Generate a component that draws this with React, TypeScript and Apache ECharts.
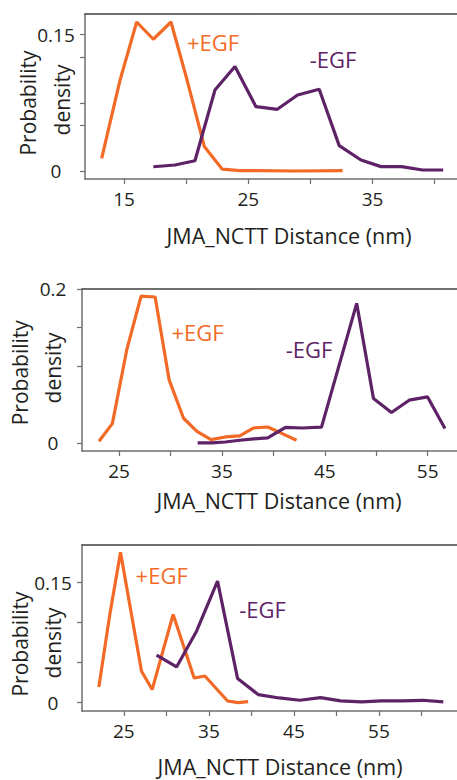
import React, { useEffect, useRef } from "react";
import * as echarts from "echarts";

// ---- Panel 1 data ----
const P1_PLUS_X = [13.2, 14.68, 16.02, 17.36, 18.78, 20.04, 21.46, 22.91, 24.3, 28.8, 32.6];
const P1_PLUS_Y = [0.014, 0.1, 0.164, 0.145, 0.164, 0.102, 0.027, 0.002, 0.0005, 0, 0.0005];
const P1_MINUS_X = [17.36, 19.1, 20.71, 22.32, 23.93, 25.62, 27.34, 28.97, 30.71, 32.32, 34.07, 35.68, 37.34, 39.03, 40.69];
const P1_MINUS_Y = [0.0047, 0.0066, 0.0113, 0.0891, 0.115, 0.0708, 0.0679, 0.0836, 0.0899, 0.0279, 0.0121, 0.0048, 0.0048, 0.0011, 0.0011];
const P1_X_TICKS = [15, 20, 25, 30, 35, 40];
const P1_X_LABELS = [15, 25, 35];
const P1_Y_TICKS = [0, 0.05, 0.075, 0.125, 0.15];
const P1_Y_LABELS = [0, 0.15];

// ---- Panel 2 data ----
const P2_PLUS_X = [23.05, 24.35, 25.75, 27.14, 28.51, 29.87, 31.27, 32.57, 33.94, 35.33, 36.73, 38.09, 39.45, 40.86, 42.25];
const P2_PLUS_Y = [0.002, 0.025, 0.121, 0.191, 0.19, 0.082, 0.032, 0.015, 0.0042, 0.0076, 0.0089, 0.0193, 0.0206, 0.012, 0.0033];
const P2_MINUS_X = [32.64, 34.04, 35.33, 36.73, 38.09, 39.45, 41.18, 42.81, 44.68, 48.1, 49.73, 51.48, 53.2, 54.99, 56.68];
const P2_MINUS_Y = [0, 0, 0.001, 0.0033, 0.005, 0.0063, 0.0202, 0.0193, 0.0204, 0.1817, 0.0577, 0.0394, 0.0555, 0.0598, 0.0185];
const P2_X_TICKS = [25, 30, 35, 40, 45, 50, 55];
const P2_X_LABELS = [25, 35, 45, 55];
const P2_Y_TICKS = [0, 0.1, 0.15, 0.2];
const P2_Y_LABELS = [0, 0.2];

// ---- Panel 3 data ----
const P3_PLUS_X = [22.06, 23.35, 24.61, 27.08, 28.33, 30.8, 33.27, 34.53, 37.2, 38.45, 39.62];
const P3_PLUS_Y = [0.0195, 0.11, 0.1878, 0.0392, 0.0163, 0.1102, 0.0308, 0.0333, 0.002, 0, 0.0013];
const P3_MINUS_X = [28.85, 31.2, 33.55, 36.02, 38.38, 40.8, 43.27, 45.7, 48.14, 50.49, 52.96, 55.31, 57.74, 60.14, 62.57];
const P3_MINUS_Y = [0.0592, 0.0446, 0.0893, 0.1519, 0.03, 0.01, 0.0058, 0.0029, 0.0063, 0.0021, 0.0008, 0.0021, 0.0021, 0.0029, 0.0008];
const P3_X_TICKS = [25, 30, 35, 40, 45, 50, 55, 60];
const P3_X_LABELS = [25, 35, 45, 55];
const P3_Y_TICKS = [0, 0.05, 0.1, 0.15];
const P3_Y_LABELS = [0, 0.15];

const SERIES_NAMES = ["+EGF", "-EGF"];
const X_TITLE = "JMA_NCTT Distance (nm)";
const Y_TITLE_1 = "Probability";
const Y_TITLE_2 = "density";

const ORANGE = "#f26a26";
const PURPLE = "#5e2266";
const TEXT = "#231f20";
const AXIS = "#6d6e71";
const FONT = "'Open Sans', sans-serif";

const zip = (xs: number[], ys: number[]) => xs.map((x, i) => [x, ys[i]]);

export default function App() {
  const ref = useRef<HTMLDivElement>(null);
  useEffect(() => {
    document.body.style.margin = "0";
    const chart = echarts.init(ref.current!, null, { renderer: "svg" });

    const panels = [
      {
        grid: { left: 85, top: 14, width: 372, height: 165 },
        xr: [11.86, 41.8], yr: [-0.0088, 0.1728],
        xt: P1_X_TICKS, xl: P1_X_LABELS, yt: P1_Y_TICKS, yl: P1_Y_LABELS,
        plus: zip(P1_PLUS_X, P1_PLUS_Y), minus: zip(P1_MINUS_X, P1_MINUS_Y),
        xTitle: [289, 235], yT1: [28.3, 103], yT2: [61.7, 100],
        plusLbl: [213, 42], minusLbl: [333, 58.5],
      },
      {
        grid: { left: 82, top: 289, width: 375, height: 162 },
        xr: [21.4, 57.85], yr: [-0.0107, 0.2004],
        xt: P2_X_TICKS, xl: P2_X_LABELS, yt: P2_Y_TICKS, yl: P2_Y_LABELS,
        plus: zip(P2_PLUS_X, P2_PLUS_Y), minus: zip(P2_MINUS_X, P2_MINUS_Y),
        xTitle: [279, 500], yT1: [20, 372.7], yT2: [53.3, 368],
        plusLbl: [197.5, 332], minusLbl: [309, 348.5],
      },
      {
        grid: { left: 82, top: 545, width: 375, height: 166 },
        xr: [20.08, 64.18], yr: [-0.0105, 0.197],
        xt: P3_X_TICKS, xl: P3_X_LABELS, yt: P3_Y_TICKS, yl: P3_Y_LABELS,
        plus: zip(P3_PLUS_X, P3_PLUS_Y), minus: zip(P3_MINUS_X, P3_MINUS_Y),
        xTitle: [280, 766], yT1: [20, 644], yT2: [53.3, 643],
        plusLbl: [161.7, 575], minusLbl: [262.5, 608.5],
      },
    ];

    const axisLine = { show: true, onZero: false, lineStyle: { color: AXIS, width: 1.5 } };
    const labelStyle = { fontSize: 19, fontFamily: FONT, color: TEXT };

    const xAxis: any[] = [];
    const yAxis: any[] = [];
    const series: any[] = [];
    const graphic: any[] = [];

    panels.forEach((p, i) => {
      xAxis.push({
        type: "value", gridIndex: i, position: "bottom", min: p.xr[0], max: p.xr[1],
        axisLine,
        axisTick: { show: true, length: 5, customValues: p.xt, lineStyle: { color: AXIS, width: 1.2 } },
        axisLabel: { show: true, customValues: p.xl, margin: 10, ...labelStyle },
        splitLine: { show: false },
      });
      yAxis.push({
        type: "value", gridIndex: i, min: p.yr[0], max: p.yr[1],
        axisLine,
        axisTick: { show: true, length: 5, customValues: p.yt, lineStyle: { color: AXIS, width: 1.2 } },
        axisLabel: { show: true, customValues: p.yl, align: "center", margin: 29, ...labelStyle },
        splitLine: { show: false },
      });
      series.push({
        type: "line", name: SERIES_NAMES[0], xAxisIndex: i, yAxisIndex: i, data: p.plus,
        symbol: "none", lineStyle: { color: ORANGE, width: 3.2 }, itemStyle: { color: ORANGE },
      });
      series.push({
        type: "line", name: SERIES_NAMES[1], xAxisIndex: i, yAxisIndex: i, data: p.minus,
        symbol: "none", lineStyle: { color: PURPLE, width: 3.2 }, itemStyle: { color: PURPLE },
      });
      const txt = (t: string, pos: number[], fill: string, size: number, rot = 0) => ({
        type: "text", x: pos[0], y: pos[1], rotation: rot,
        style: { text: t, fill, fontSize: size, fontFamily: FONT, align: "center", verticalAlign: "middle" },
      });
      graphic.push(txt(X_TITLE, p.xTitle, TEXT, 21.5));
      graphic.push(txt(Y_TITLE_1, p.yT1, TEXT, 21, Math.PI / 2));
      graphic.push(txt(Y_TITLE_2, p.yT2, TEXT, 21, Math.PI / 2));
      graphic.push(txt(SERIES_NAMES[0], p.plusLbl, ORANGE, 22));
      graphic.push(txt(SERIES_NAMES[1], p.minusLbl, PURPLE, 22));
    });
    // top frame lines
    panels.forEach((p, i) => {
      xAxis.push({
        type: "value", gridIndex: i, position: "top", min: p.xr[0], max: p.xr[1],
        axisLine: { show: true, onZero: false, lineStyle: { color: "#414042", width: 1.5 } },
        axisTick: { show: false }, axisLabel: { show: false }, splitLine: { show: false },
      });
    });

    chart.setOption({
      animation: false,
      backgroundColor: "#ffffff",
      grid: panels.map((p) => p.grid),
      xAxis,
      yAxis,
      series,
      graphic,
    });
    return () => chart.dispose();
  }, []);
  return <div ref={ref} style={{ width: 457, height: 780 }} />;
}
